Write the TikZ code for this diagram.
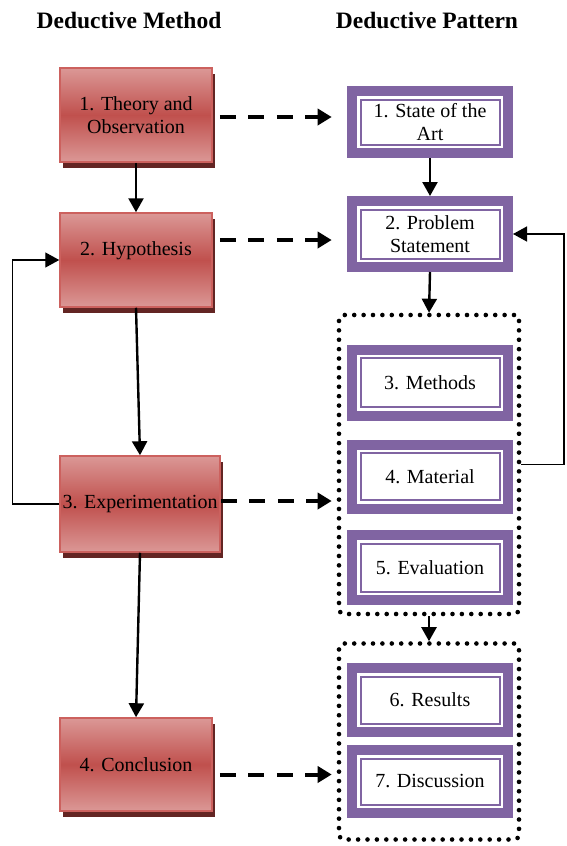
\documentclass[tikz,border=0pt]{standalone}
\usepackage{fontspec}
\setmainfont{Liberation Serif}
\usetikzlibrary{arrows.meta,shadows}

\definecolor{methodred}{HTML}{C0504D}
\definecolor{methodlight}{HTML}{DB9896}
\definecolor{methodedge}{HTML}{CC615E}
\definecolor{methodshadow}{HTML}{632523}
\definecolor{patternpurple}{HTML}{8064A2}

\tikzset{
  bodyfont/.style={font=\fontsize{20}{23}\selectfont},
  headfont/.style={font=\bfseries\fontsize{23.5}{27}\selectfont},
  methodbox/.style={bodyfont, align=center, draw=methodedge, line width=1.5pt,
    top color=methodlight, bottom color=methodlight, middle color=methodred,
    minimum width=152pt, minimum height=94pt, inner sep=0pt,
    drop shadow={shadow xshift=3pt, shadow yshift=-6pt, fill=methodshadow, opacity=1}},
  methodtext/.style={bodyfont, align=center, inner sep=0pt},
  patternbox/.style={bodyfont, align=center, draw=patternpurple, line width=10pt,
    fill=white, minimum width=156pt, minimum height=64pt, inner sep=0pt,
    path picture={\draw[patternpurple, line width=2pt]
      ([xshift=8.5pt,yshift=-8.5pt]path picture bounding box.north west) rectangle
      ([xshift=-8.5pt,yshift=8.5pt]path picture bounding box.south east);}},
  groupbox/.style={draw=black, line width=4.6pt, dash pattern=on 0pt off 9.4pt,
    line cap=round, rounded corners=5pt, minimum width=180pt, inner sep=0pt},
  flow/.style={draw=black, line width=2.4pt,
    -{Triangle[length=14pt,width=15pt]}},
  link/.style={draw=black, line width=4pt, dash pattern=on 16pt off 12.5pt,
    -{Triangle[length=14pt,width=16pt]}},
  loopback/.style={draw=black, line width=1.4pt,
    -{Triangle[length=14pt,width=15pt]}},
}

\begin{document}
\begin{tikzpicture}[x=1pt,y=-1pt]
  \useasboundingbox (0,0) rectangle (566,846);

  % column headings
  \node[headfont] (headmethod) at (129,20) {Deductive Method};
  \node[headfont] (headpattern) at (427,20) {Deductive Pattern};

  % dotted groups on the pattern side
  \node[groupbox, minimum height=299pt] (groupA) at (429,464.5) {};
  \node[groupbox, minimum height=196pt] (groupB) at (429,741.5) {};

  % deductive method steps
  \node[methodbox] (m1) at (136,115) {1. Theory and\\Observation};
  \node[methodbox] (m2) at (136,260) {};
  \node[methodtext] (m2label) at (136,251) {2. Hypothesis};
  \node[methodbox, minimum width=160pt, minimum height=96pt] (m3) at (140,504) {3. Experimentation};
  \node[methodbox, minimum height=93pt] (m4) at (136,764.5) {4. Conclusion};

  % deductive pattern sections
  \node[patternbox, minimum height=62pt] (p1) at (430,122) {1. State of the\\Art};
  \node[patternbox, minimum height=66pt] (p2) at (430,234) {2. Problem\\Statement};
  \node[patternbox, minimum height=66pt] (p3) at (430,382.5) {3. Methods};
  \node[patternbox] (p4) at (430,476.5) {4. Material};
  \node[patternbox, minimum height=65pt] (p5) at (430,567.5) {5. Evaluation};
  \node[patternbox] (p6) at (430,700) {6. Results};
  \node[patternbox, minimum height=63pt] (p7) at (430,781.5) {7. Discussion};

  % method flow
  \draw[flow] (m1) -- (m2);
  \draw[flow] (m2.south) -- (m3.north);
  \draw[flow] (m3.south) -- (m4.north);
  \draw[loopback] (m3.west) -- ++(-47,0) |- (m2.west);

  % pattern flow
  \draw[flow] (p1) -- (p2);
  \draw[flow] (p2.south) -- (groupA.north);
  \draw[flow] (groupA.south) -- (groupB.north);
  \draw[loopback] (groupA.east) -- ++(42.5,0) |- (p2.east);

  % correspondence between method and pattern
  \draw[link, shorten <=7pt, shorten >=5pt] ([yshift=-2pt]m1.east) -- ([yshift=-2pt]m1.east -| groupA.west);
  \draw[link, shorten <=7pt, shorten >=5pt] ([yshift=20pt]m2.east) -- ([yshift=20pt]m2.east -| groupA.west);
  \draw[link, shorten >=5pt] ([yshift=3pt]m3.east) -- ([yshift=3pt]m3.east -| groupA.west);
  \draw[link, shorten <=7pt, shorten >=5pt] ([yshift=-10pt]m4.east) -- ([yshift=-10pt]m4.east -| groupA.west);
\end{tikzpicture}
\end{document}
